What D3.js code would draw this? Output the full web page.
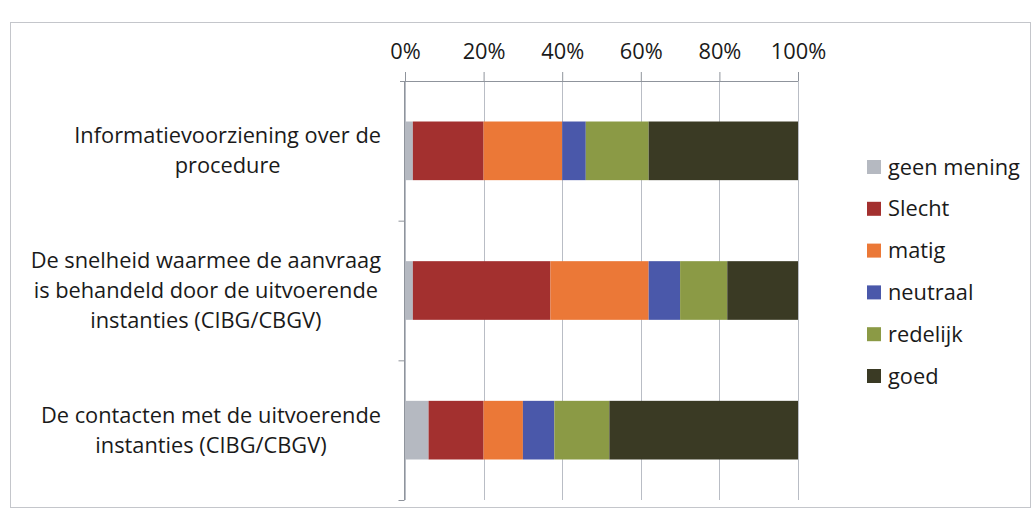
<!DOCTYPE html>
<html lang="nl">
<head>
    <meta charset="UTF-8">
    <title>Beoordeling uitvoerende instanties</title>
    <script src="https://d3js.org/d3.v7.min.js"></script>
    <style>
        html, body {
            margin: 0;
            padding: 0;
            background: #fff;
        }
        svg text {
            font-family: 'Open Sans', 'Noto Sans', sans-serif;
            font-variant-ligatures: none;
            fill: #1a1a1a;
        }
        .grid line {
            stroke: #b9bdc5;
            stroke-width: 1px;
        }
    </style>
</head>
<body>
    <div id="chart"></div>
    <script>
        // categories (each label split into its lines)
        const categories = [
            ["Informatievoorziening over de", "procedure"],
            ["De snelheid waarmee de aanvraag", "is behandeld door de uitvoerende", "instanties (CIBG/CBGV)"],
            ["De contacten met de uitvoerende", "instanties (CIBG/CBGV)"]
        ];
        const seriesNames = ["geen mening", "Slecht", "matig", "neutraal", "redelijk", "goed"];
        const seriesColors = ["#b5b9c1", "#a3302f", "#eb7837", "#4a58aa", "#8b9a45", "#3a3a24"];

        // percentages per category, same order as seriesNames
        const geenMening = [2, 2, 6];
        const slecht     = [18, 35, 14];
        const matig      = [20, 25, 10];
        const neutraal   = [6, 8, 8];
        const redelijk   = [16, 12, 14];
        const goed       = [38, 18, 48];

        const tickValues = [0, 20, 40, 60, 80, 100];

        const width = 1034;
        const height = 528;
        const fontSize = "21.8px";

        const svg = d3.select("#chart")
            .append("svg")
            .attr("width", width)
            .attr("height", height);

        // chart frame
        svg.append("rect")
            .attr("x", 10.5)
            .attr("y", 22.5)
            .attr("width", 1020)
            .attr("height", 485)
            .attr("fill", "none")
            .attr("stroke", "#c4c6cb")
            .attr("stroke-width", 1);

        const plotTop = 81;
        const plotBottom = 500;

        const x = d3.scaleLinear()
            .domain([0, 100])
            .range([405, 798]);

        const catIndex = categories.map((d, i) => i);
        const y = d3.scaleBand()
            .domain(catIndex)
            .range([plotTop, plotBottom])
            .paddingInner(0.58)
            .paddingOuter(0.29);

        // gridlines
        svg.append("g")
            .attr("class", "grid")
            .selectAll("line")
            .data(tickValues)
            .enter()
            .append("line")
            .attr("x1", d => Math.round(x(d)) + 0.5)
            .attr("x2", d => Math.round(x(d)) + 0.5)
            .attr("y1", plotTop)
            .attr("y2", plotBottom);

        // stacked data
        const rows = catIndex.map(i => ({
            "geen mening": geenMening[i],
            "Slecht": slecht[i],
            "matig": matig[i],
            "neutraal": neutraal[i],
            "redelijk": redelijk[i],
            "goed": goed[i],
            idx: i
        }));
        const stack = d3.stack().keys(seriesNames);
        const stacked = stack(rows);

        const color = d3.scaleOrdinal()
            .domain(seriesNames)
            .range(seriesColors);

        svg.append("g")
            .selectAll("g")
            .data(stacked)
            .enter()
            .append("g")
            .attr("fill", d => color(d.key))
            .selectAll("rect")
            .data(d => d)
            .enter()
            .append("rect")
            .attr("x", d => x(d[0]))
            .attr("y", d => y(d.data.idx))
            .attr("width", d => x(d[1]) - x(d[0]))
            .attr("height", y.bandwidth());

        // top axis
        const xAxis = d3.axisTop(x)
            .tickValues(tickValues)
            .tickFormat(d => d + "%")
            .tickSize(9)
            .tickPadding(13);
        const gx = svg.append("g")
            .attr("transform", `translate(0,${plotTop})`)
            .call(xAxis);
        gx.select(".domain")
            .attr("stroke", "#8f949c")
            .attr("d", `M${x(0) - 5},0.5H${x(100)}`);
        gx.selectAll(".tick line").attr("stroke", "#8f949c");
        gx.selectAll(".tick text")
            .attr("font-size", fontSize)
            .attr("fill", "#1a1a1a")
            .style("font-family", "'Open Sans', 'Noto Sans', sans-serif");

        // left axis with category boundary ticks
        const yBound = d3.scaleLinear()
            .domain([0, categories.length])
            .range([plotTop, plotBottom]);
        const gy = svg.append("g")
            .attr("transform", `translate(${Math.round(x(0)) - 0.5},0)`)
            .call(d3.axisLeft(yBound)
                .tickValues(d3.range(1, categories.length + 1))
                .tickSize(6)
                .tickFormat(""));
        gy.select(".domain")
            .attr("stroke", "#8f949c")
            .attr("d", `M0,${plotTop}V${plotBottom}`);
        gy.selectAll(".tick line").attr("stroke", "#8f949c");

        // category labels: block right-aligned, lines centered within block
        const labelRight = 381;
        const lineHeight = 30;
        const labels = svg.append("g")
            .selectAll("g")
            .data(categories)
            .enter()
            .append("g");

        labels.each(function(lines, i) {
            const g = d3.select(this);
            const cy = y(i) + y.bandwidth() / 2;
            const t = g.selectAll("text")
                .data(lines)
                .enter()
                .append("text")
                .attr("font-size", fontSize)
                .attr("text-anchor", "middle")
                .attr("dy", "0.35em")
                .attr("y", (d, j) => cy + (j - (lines.length - 1) / 2) * lineHeight)
                .text(d => d);
            let maxW = 0;
            t.each(function() {
                maxW = Math.max(maxW, this.getComputedTextLength());
            });
            t.attr("x", labelRight - maxW / 2);
        });

        // legend
        const legend = svg.append("g")
            .selectAll("g")
            .data(seriesNames)
            .enter()
            .append("g")
            .attr("transform", (d, i) => `translate(867,${167 + i * 41.8})`);

        legend.append("rect")
            .attr("x", 0)
            .attr("y", -7)
            .attr("width", 14)
            .attr("height", 14)
            .attr("fill", d => color(d));

        legend.append("text")
            .attr("x", 21)
            .attr("dy", "0.35em")
            .attr("font-size", fontSize)
            .text(d => d);
    </script>
</body>
</html>
